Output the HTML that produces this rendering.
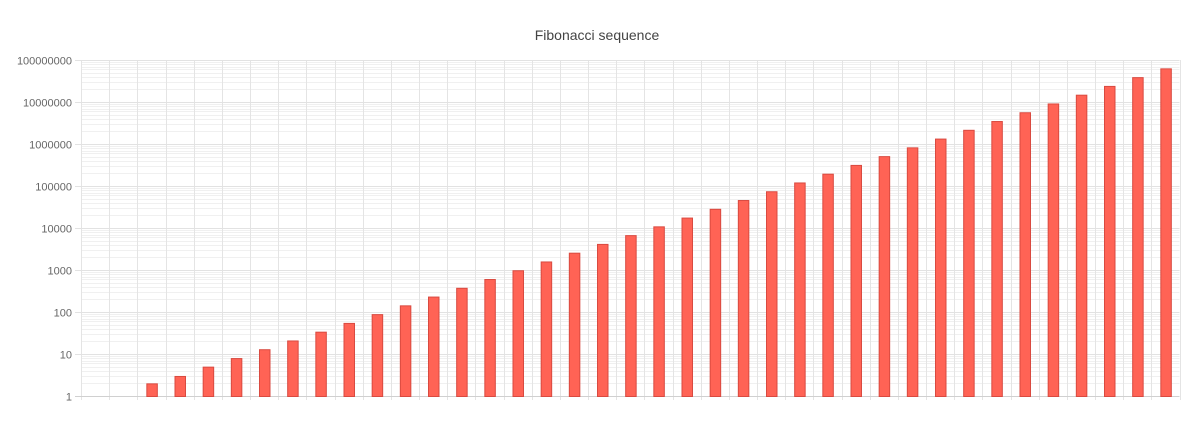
<!DOCTYPE html>
<html><head><meta charset="utf-8"><style>
html,body{margin:0;padding:0;background:#fff;width:1203px;height:442px;overflow:hidden}
svg{display:block;font-family:"Liberation Sans",sans-serif}
</style></head><body>
<svg id="c" width="1203" height="442" xmlns="http://www.w3.org/2000/svg">
<text x="597" y="40" text-anchor="middle" font-size="14" fill="#444">Fibonacci sequence</text>
</svg>
<script>
var s=document.getElementById('c'),NS='http://www.w3.org/2000/svg';
function el(t,a,txt){var e=document.createElementNS(NS,t);for(var k in a)e.setAttribute(k,a[k]);if(txt!=null)e.textContent=txt;s.appendChild(e);return e;}
var L=81,R=1179.5,Y0=396,D=42,N=39,cw=(R-L)/N;
function y(v){return Y0-Math.log10(v)*D;}
for(var d=0;d<8;d++)for(var m=2;m<10;m++){var yy=Math.round(y(m*Math.pow(10,d)))+0.5;el('line',{x1:L,x2:R,y1:yy,y2:yy,stroke:'#f0f0f0','stroke-width':1});}
for(var i=0;i<=N;i++){var xx=Math.round(L+i*cw)+0.5;el('line',{x1:xx,x2:xx,y1:60,y2:Y0+4,stroke:'#e4e4e4','stroke-width':1});}
for(var d=0;d<=8;d++){var yy=Math.round(y(Math.pow(10,d)))+0.5;el('line',{x1:75,x2:R,y1:yy,y2:yy,stroke:d==0?'#d0d0d0':'#e2e2e2','stroke-width':1});
el('text',{x:72,y:yy+4,'text-anchor':'end','font-size':11,fill:'#666'},String(Math.pow(10,d)));}
var f=[1,1];while(f.length<N)f.push(f[f.length-1]+f[f.length-2]);
for(var i=0;i<N;i++){if(f[i]<=1)continue;var x0=L+i*cw+9,yt=y(f[i]);
el('rect',{x:x0+0.5,y:yt+0.5,width:10.5,height:Y0-yt,fill:'#ff6355',stroke:'#d94a40','stroke-width':1});}
</script>
</body></html>
